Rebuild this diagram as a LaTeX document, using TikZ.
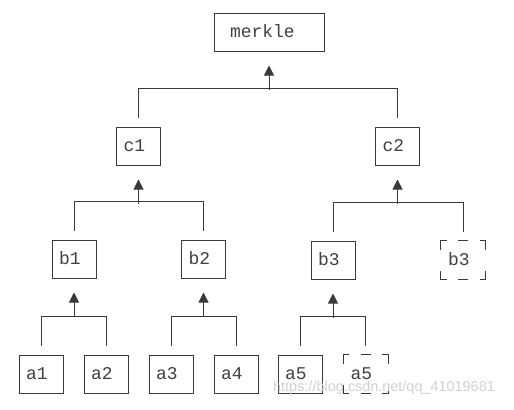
\documentclass[tikz,border=0pt]{standalone}
\usepackage{fontspec}
\setmainfont{Liberation Sans}
\newfontfamily\monofont{Liberation Mono}
\usetikzlibrary{arrows.meta,calc}
\definecolor{linec}{HTML}{3A3A3A}
\definecolor{textc}{HTML}{404040}
\newcommand\joinup[3]{%
  \draw[conn] ($(#2.north)+(0,-9)$) -- ($(#2.north)+(0,-38)$) -| ($(#3.north)+(0,-9)$);
  \draw[conn,-{Triangle[width=10bp,length=10bp]}] ($(#1.south)+(0,38)$) -- ($(#1.south)+(0,14)$);
}
\newcommand\cornerbox[1]{%
  \draw[conn] ($(#1.north west)+(6,0)$) -- (#1.north west) -- ($(#1.north west)+(0,9)$);
  \draw[conn] ($(#1.north east)+(-6,0)$) -- (#1.north east) -- ($(#1.north east)+(0,9)$);
  \draw[conn] ($(#1.south west)+(6,0)$) -- (#1.south west) -- ($(#1.south west)+(0,-9)$);
  \draw[conn] ($(#1.south east)+(-6,0)$) -- (#1.south east) -- ($(#1.south east)+(0,-9)$);
  \draw[conn] ($(#1.north)+(-5,0)$) -- ($(#1.north)+(5,0)$);
  \draw[conn] ($(#1.south)+(-5,0)$) -- ($(#1.south)+(5,0)$);
}
\begin{document}
\begin{tikzpicture}[x=1bp,y=-1bp,
  conn/.style={draw=linec, line width=1bp},
  box/.style={draw=linec, line width=1bp, minimum height=38bp, text width=30bp,
    inner xsep=7bp, inner ysep=0pt, align=left, text height=1.15em, text depth=0pt,
    font=\monofont\fontsize{18}{18}\selectfont, text=textc},
  dbox/.style={box, draw=none},
  wide/.style={box, text width=78bp, inner xsep=16bp},
  wm/.style={font=\fontsize{14.5}{14.5}\selectfont, text=black!18}]
\useasboundingbox (0,0) rectangle (514,409);
\fill[white] (0,0) rectangle (514,409);
% nodes
\node[wide] (m) at (269,32) {merkle};
\node[box] (c1) at (138.5,146) {c1};
\node[box] (c2) at (397.5,146) {c2};
\node[box] (b1) at (74,259) {b1};
\node[box] (b2) at (203.5,259) {b2};
\node[box] (b3) at (333,260) {b3};
\node[dbox] (b3d) at (463,260) {b3};
\node[box] (a1) at (41,374) {a1};
\node[box] (a2) at (106,374) {a2};
\node[box] (a3) at (171,374) {a3};
\node[box] (a4) at (236,374) {a4};
\node[box] (a5) at (300,374) {a5};
\node[dbox] (a5d) at (365.5,374) {a5};
\cornerbox{b3d}
\cornerbox{a5d}
% connectors
\joinup{m}{c1}{c2}
\joinup{c1}{b1}{b2}
\joinup{c2}{b3}{b3d}
\joinup{b1}{a1}{a2}
\joinup{b2}{a3}{a4}
\joinup{b3}{a5}{a5d}
% watermark
\node[wm] (w) at (384,388) {https://blog.csdn.net/qq\_41019681};
\end{tikzpicture}
\end{document}
